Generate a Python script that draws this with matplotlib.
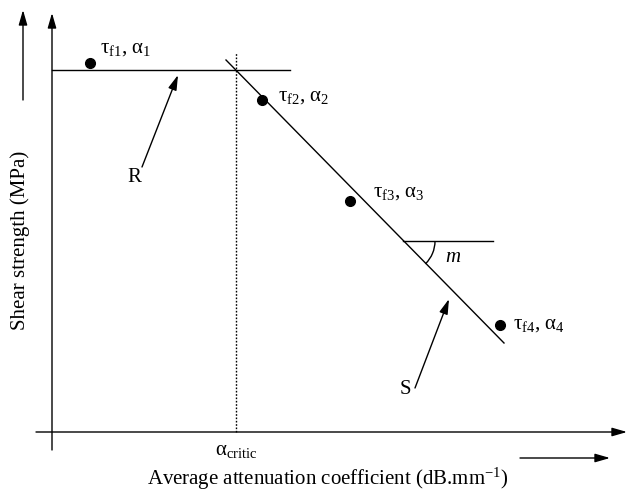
import numpy as np
import matplotlib
matplotlib.use("Agg")
import matplotlib.pyplot as plt
from matplotlib.patches import FancyArrowPatch, Arc

plt.rcParams['font.family'] = ['Liberation Serif', 'DejaVu Serif']
plt.rcParams['mathtext.fontset'] = 'custom'
plt.rcParams['mathtext.rm'] = 'Liberation Serif'
plt.rcParams['mathtext.it'] = 'Liberation Serif:italic'

# ---- schematic data (alpha: attenuation, tau: shear strength) ----
alpha_pts = [3.8, 21.0, 29.8, 44.8]
tau_pts = [36.9, 33.2, 23.1, 10.7]
pt_labels = [r'τ$_{\rm f1}$, α$_{\rm 1}$', r'τ$_{\rm f2}$, α$_{\rm 2}$',
             r'τ$_{\rm f3}$, α$_{\rm 3}$', r'τ$_{\rm f4}$, α$_{\rm 4}$']
label_alpha = [4.8, 22.6, 32.1, 46.1]
label_tau = [38.4, 33.5, 23.9, 10.7]

tau_R = 36.2            # plateau level
alpha_R_end = 23.8
alpha_critic = 18.4
S_alpha = [17.4, 45.2]  # sloped line S
S_tau = [37.2, 8.9]
m_alpha = [35.1, 44.1]  # slope reference line
m_tau = 19.1

fig = plt.figure(figsize=(6.31, 4.93), dpi=100)
ax = fig.add_axes([0, 0, 1, 1])
ax.set_xlim(-5.2, 57.9)
ax.set_ylim(-6.1, 43.2)
ax.axis('off')

lw = 1.0
def arrow(p0, p1):
    a = FancyArrowPatch(p0, p1, arrowstyle='-|>,head_length=0.45,head_width=0.13',
                        mutation_scale=20, lw=lw, color='black',
                        shrinkA=0, shrinkB=0)
    ax.add_patch(a)

# axes
arrow((0, -1.8), (0, 41.9))
arrow((-1.6, 0), (57.5, 0))
# direction arrows
arrow((-2.9, 33.2), (-2.9, 42.2))
arrow((46.8, -2.6), (55.8, -2.6))

# plateau R
ax.plot([0, alpha_R_end], [tau_R, tau_R], color='black', lw=lw)
# critical alpha
ax.plot([alpha_critic, alpha_critic], [0, 37.9], color='black', lw=lw, ls=(0, (1.2, 1.2)))
# line S
ax.plot(S_alpha, S_tau, color='black', lw=lw)
# slope m
ax.plot(m_alpha, [m_tau, m_tau], color='black', lw=lw)
slope_deg = np.degrees(np.arctan2(S_tau[1] - S_tau[0], S_alpha[1] - S_alpha[0]))
ax.add_patch(Arc((m_alpha[0], m_tau), 6.4, 6.4, theta1=slope_deg, theta2=0,
                 color='black', lw=lw))
ax.text(40.1, 17.5, r'$m$', fontsize=15, ha='center', va='center')

# points
ax.plot(alpha_pts, tau_pts, 'o', color='black', ms=7)
for x, y, t in zip(label_alpha, label_tau, pt_labels):
    ax.text(x, y, t, fontsize=15, ha='left', va='center')

# R and S pointers
ax.text(8.2, 25.5, 'R', fontsize=15, ha='center', va='center')
arrow((9.0, 26.5), (12.6, 35.7))
ax.text(35.3, 4.2, 'S', fontsize=15, ha='center', va='center')
arrow((36.3, 4.4), (39.7, 13.3))

ax.text(alpha_critic, -0.9, r'α$_{\rm critic}$', fontsize=15, ha='center', va='top')
ax.text(27.6, -5.3, r'Average attenuation coefficient (dB.mm$^{-1}$)', fontsize=15,
        ha='center', va='baseline')
ax.text(-3.2, 19.2, 'Shear strength (MPa)', fontsize=15, rotation=90,
        ha='center', va='center')

fig.savefig('out.png', dpi=100)
